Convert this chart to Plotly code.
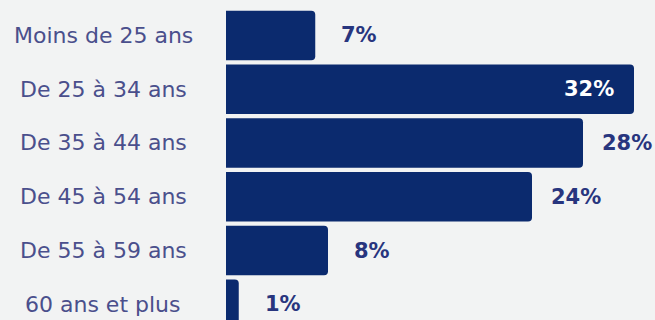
import plotly.graph_objects as go

categories = ["Moins de 25 ans", "De 25 à 34 ans", "De 35 à 44 ans",
              "De 45 à 54 ans", "De 55 à 59 ans", "60 ans et plus"]
values = [7, 32, 28, 24, 8, 1]
value_labels = ["7%", "32%", "28%", "24%", "8%", "1%"]

BG = "#f2f3f3"
BAR = "#0b2a6e"
CAT_COLOR = "#4a4f8c"
PCT_COLOR = "#28357e"
FONT = "DejaVu Sans"

fig = go.Figure(go.Bar(
    x=values, y=categories, orientation="h",
    marker=dict(color=BAR, line=dict(width=0)),
    hoverinfo="skip",
))

annotations = []
for cat in categories:
    annotations.append(dict(
        x=0, xref="paper", y=cat, yref="y", text=cat, showarrow=False,
        xanchor="center", yanchor="middle", xshift=-123,
        font=dict(family=FONT, size=22, color=CAT_COLOR),
    ))
for cat, v, lab in zip(categories, values, value_labels):
    inside = v == max(values)
    annotations.append(dict(
        x=v, xref="x", y=cat, yref="y", text="<b>" + lab + "</b>", showarrow=False,
        xanchor="center", yanchor="middle", xshift=-45 if inside else 44,
        font=dict(family=FONT, size=21, color="#ffffff" if inside else PCT_COLOR),
    ))

fig.update_layout(
    width=655, height=320,
    margin=dict(l=226, r=0, t=0, b=0),
    paper_bgcolor=BG, plot_bgcolor=BG,
    bargap=0.08, barcornerradius=4,
    showlegend=False,
    xaxis=dict(range=[0, 429 / 12.75], visible=False, fixedrange=True),
    yaxis=dict(range=[5.293, -0.660], showticklabels=False, showgrid=False,
               zeroline=False, fixedrange=True),
    annotations=annotations,
)

fig.write_html(
    "out.html",
    config={"displayModeBar": False},
    post_script="document.body.style.margin='0';document.body.style.background='" + BG + "';document.body.style.overflow='hidden';",
)
